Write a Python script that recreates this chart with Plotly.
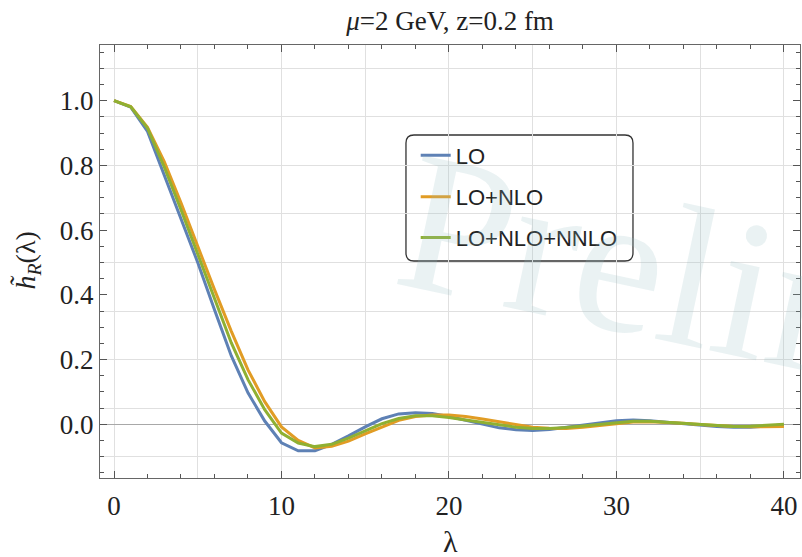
import plotly.graph_objects as go

# Ioffe-time distribution at mu = 2 GeV, z = 0.2 fm, sampled at integer lambda
lam = list(range(0, 41))

h_lo = [1.000, 0.980, 0.905, 0.772, 0.636, 0.500, 0.354, 0.212, 0.097, 0.010,
        -0.057, -0.082, -0.082, -0.062, -0.036, -0.008, 0.017, 0.032, 0.036, 0.033,
        0.024, 0.012, 0.000, -0.011, -0.017, -0.019, -0.016, -0.009, -0.001, 0.006,
        0.011, 0.013, 0.011, 0.006, 0.001, -0.003, -0.007, -0.009, -0.009, -0.005,
        -0.002]

h_nlo = [1.000, 0.982, 0.918, 0.812, 0.684, 0.548, 0.416, 0.288, 0.168, 0.070,
         -0.008, -0.050, -0.073, -0.068, -0.052, -0.030, -0.008, 0.012, 0.024, 0.029,
         0.029, 0.024, 0.016, 0.007, -0.002, -0.009, -0.012, -0.013, -0.009, -0.003,
         0.003, 0.007, 0.008, 0.006, 0.003, -0.001, -0.005, -0.007, -0.008, -0.007,
         -0.007]

h_nnlo = [1.000, 0.981, 0.915, 0.795, 0.663, 0.525, 0.387, 0.252, 0.138, 0.045,
          -0.027, -0.058, -0.069, -0.062, -0.043, -0.020, 0.002, 0.018, 0.026, 0.026,
          0.021, 0.013, 0.005, -0.003, -0.009, -0.013, -0.013, -0.010, -0.005, 0.001,
          0.006, 0.009, 0.009, 0.006, 0.002, -0.002, -0.005, -0.007, -0.006, -0.004,
          0.000]

series_names = ["LO", "LO+NLO", "LO+NLO+NNLO"]
series_values = [h_lo, h_nlo, h_nnlo]
series_colors = ["#5E81B5", "#E19C24", "#8FB032"]
legend_ids = ["legend", "legend2", "legend3"]

x_range = [-0.836, 40.96]
y_range = [-0.166, 1.172]

serif = "Liberation Serif"
sans = "Liberation Sans"
frame_col = "#666666"
tick_col = "#555555"
grid_col = "#e0e0e0"

fig = go.Figure()

# empty trace that carries the overlay grid axes
fig.add_trace(go.Scatter(x=[], y=[], xaxis="x2", yaxis="y2",
                         showlegend=False, hoverinfo="skip"))

for name, vals, col, lg in zip(series_names, series_values, series_colors, legend_ids):
    fig.add_trace(go.Scatter(
        x=lam, y=vals, mode="lines", name=name,
        line=dict(color=col, width=3),
        legend=lg,
    ))

fig.update_layout(
    width=802, height=557,
    margin=dict(l=100, r=2, t=45, b=79),
    paper_bgcolor="white", plot_bgcolor="white",
    title=dict(text="<i>μ</i>=2 GeV, z=0.2 fm",
               font=dict(family=serif, size=27, color="#222"),
               x=0.5, xref="paper", xanchor="center",
               y=1 - 21 / 557, yref="container", yanchor="middle"),
    xaxis=dict(range=x_range, tick0=0, dtick=10, ticks="inside", ticklen=7,
               tickwidth=1, tickcolor=tick_col, showline=True, linecolor=frame_col,
               linewidth=1, mirror="ticks", showgrid=False, zeroline=False,
               tickfont=dict(family=serif, size=27, color="#222"),
               ticklabelstandoff=4,
               minor=dict(dtick=2, tick0=0, ticks="inside", ticklen=4,
                          tickcolor=tick_col, showgrid=False)),
    yaxis=dict(range=y_range, tick0=0, dtick=0.2, tickformat=".1f",
               ticks="inside", ticklen=7, tickwidth=1, tickcolor=tick_col,
               showline=True, linecolor=frame_col, linewidth=1, mirror="ticks",
               showgrid=False, zeroline=True, zerolinecolor="#a8a8a8",
               zerolinewidth=1,
               tickfont=dict(family=serif, size=27, color="#222"),
               minor=dict(dtick=0.05, tick0=0, ticks="inside", ticklen=4,
                          tickcolor=tick_col, showgrid=False)),
    xaxis2=dict(range=x_range, overlaying="x", anchor="y2", tick0=0, dtick=5,
                showgrid=True, gridcolor=grid_col, gridwidth=1,
                showticklabels=False, ticks="", showline=False, zeroline=False),
    yaxis2=dict(range=y_range, overlaying="y", anchor="x2", tick0=-0.1, dtick=0.15,
                showgrid=True, gridcolor=grid_col, gridwidth=1,
                showticklabels=False, ticks="", showline=False, zeroline=False),
    showlegend=True,
)

# one legend per series, stacked inside a rounded frame
legend_y = [0.745, 0.649, 0.555]
for lg, ly in zip(legend_ids, legend_y):
    fig.update_layout({lg: dict(x=0.451, y=ly, xanchor="left", yanchor="middle",
                                bgcolor="rgba(0,0,0,0)", borderwidth=0,
                                font=dict(family=sans, size=22, color="#222"))})

# rounded legend frame (paper coordinates), drawn over the grid only
bx0, bx1, by0, by1 = 0.4371, 0.7614, 0.5012, 0.7921
rx, ry = 0.0114, 0.0185
frame_path = (f"M {bx0+rx} {by1} L {bx1-rx} {by1} Q {bx1} {by1} {bx1} {by1-ry} "
              f"L {bx1} {by0+ry} Q {bx1} {by0} {bx1-rx} {by0} "
              f"L {bx0+rx} {by0} Q {bx0} {by0} {bx0} {by0+ry} "
              f"L {bx0} {by1-ry} Q {bx0} {by1} {bx0+rx} {by1} Z")
fig.add_shape(type="path", path=frame_path, xref="paper", yref="paper",
              fillcolor="white", line=dict(color="#333", width=1.3), layer="between")

# axis titles
fig.add_annotation(text="λ", x=0.5, y=-0.1455, xref="paper", yref="paper",
                   xanchor="center", yanchor="middle", showarrow=False,
                   font=dict(family=serif, size=30, color="#222"))
fig.add_annotation(text="<i>h\u0303</i><sub><i>R</i></sub>(λ)", x=-0.104, y=0.503,
                   xref="paper", yref="paper", xanchor="center", yanchor="middle",
                   textangle=-90, showarrow=False,
                   font=dict(family=serif, size=28, color="#222"))

# faint watermark
fig.add_annotation(text="Preliminary", x=1.094, y=0.378, xref="paper", yref="paper",
                   xanchor="center", yanchor="middle", textangle=12, showarrow=False,
                   font=dict(family=serif, size=200, color="rgba(150,190,195,0.2)"))

fig.write_html("out.html")
